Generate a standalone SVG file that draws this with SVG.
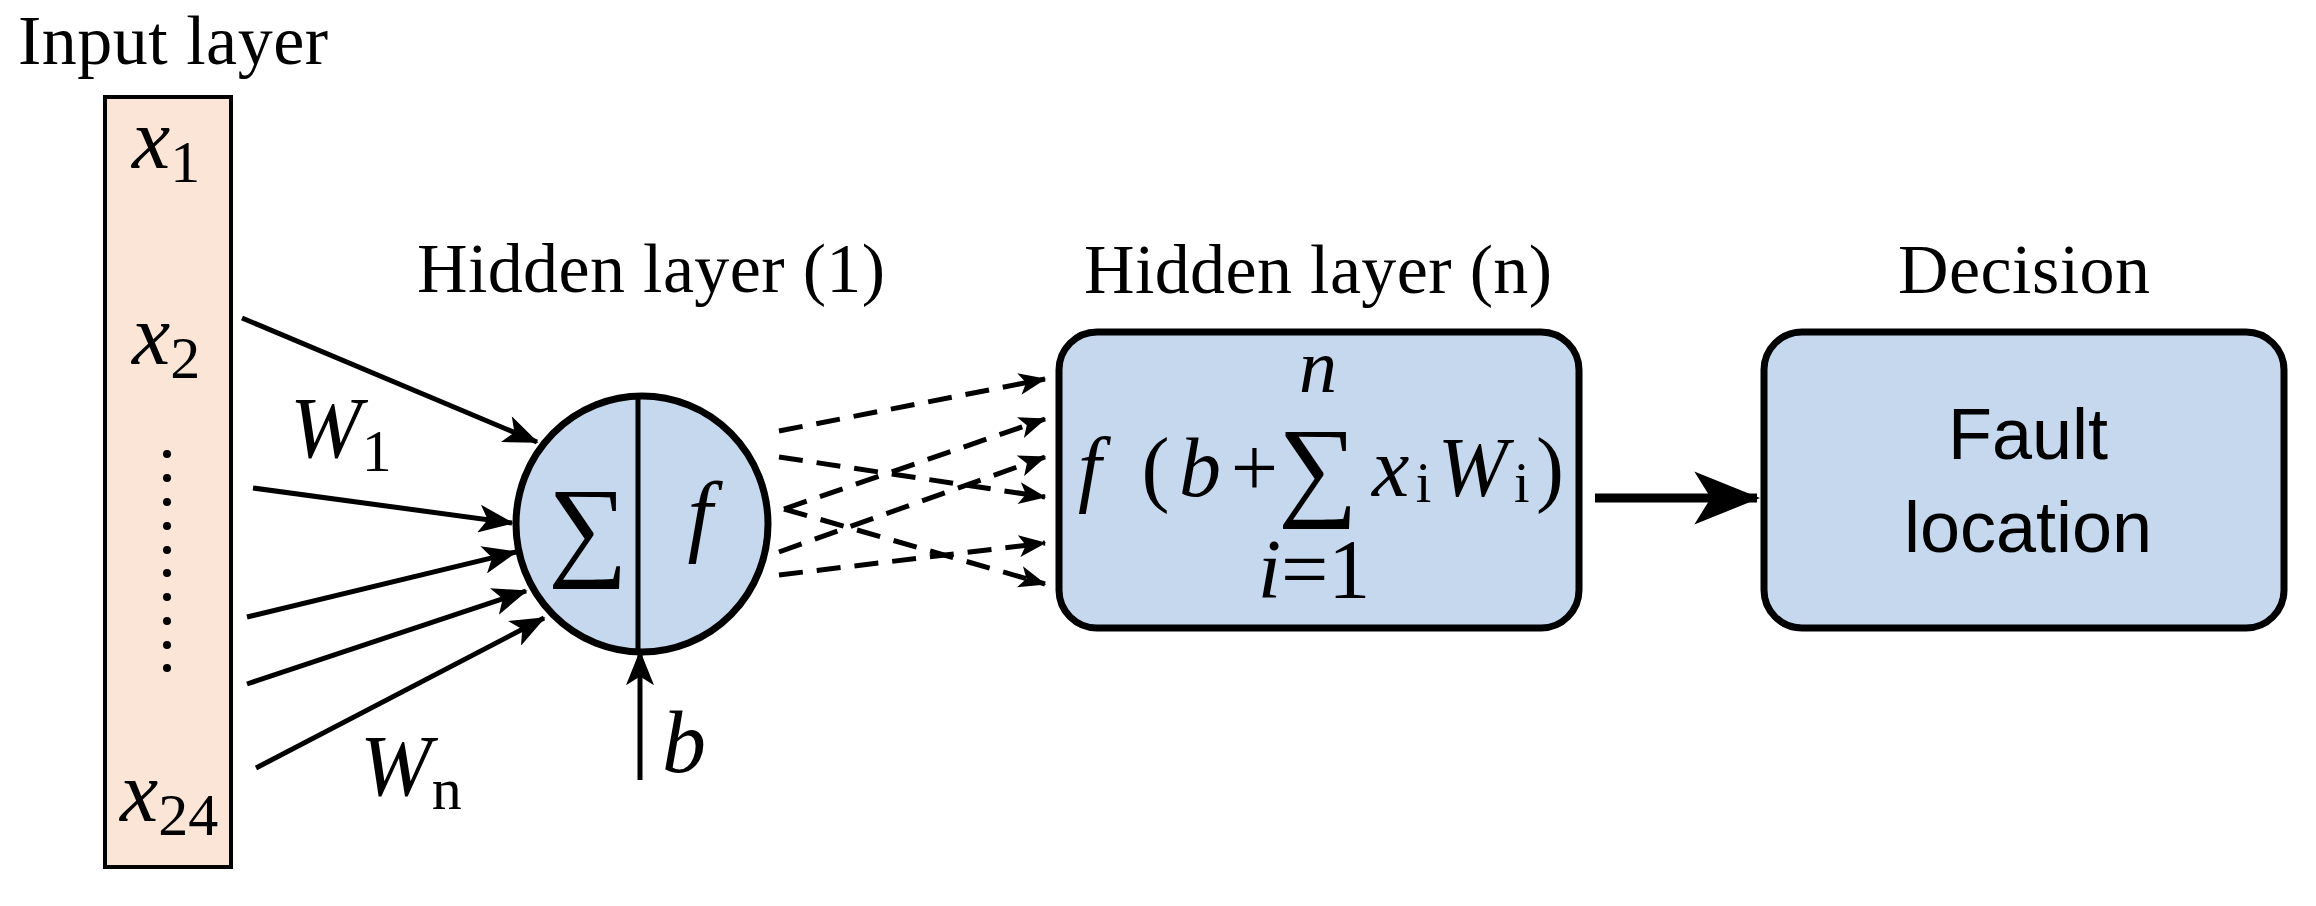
<svg xmlns="http://www.w3.org/2000/svg" width="2316" height="906" viewBox="0 0 2316 906">
<style>
.t{font-family:"Liberation Serif","Times New Roman",serif;fill:#000}
.s{font-family:"Liberation Sans",Arial,sans-serif;fill:#000}
.i{font-style:italic}
.ln{stroke:#000;stroke-width:5;fill:none}
.d{stroke:#000;stroke-width:5;fill:none;stroke-dasharray:24 14}
</style>
<defs>
<marker id="am" viewBox="0 0 10 8" refX="9.5" refY="4" markerWidth="36" markerHeight="28" orient="auto" markerUnits="userSpaceOnUse"><path d="M0,0 L10,4 L0,8 L2.5,4 Z"/></marker>
<marker id="ad" viewBox="0 0 10 8" refX="9.5" refY="4" markerWidth="28" markerHeight="22" orient="auto" markerUnits="userSpaceOnUse"><path d="M0,0 L10,4 L0,8 L2.5,4 Z"/></marker>
<marker id="ab" viewBox="0 0 10 8" refX="9.5" refY="4" markerWidth="66" markerHeight="56" orient="auto" markerUnits="userSpaceOnUse"><path d="M0,0 L10,4 L0,8 L2.5,4 Z"/></marker>
</defs>
<rect width="2316" height="906" fill="#fff"/>
<g id="input">
<text class="t" x="18" y="64" font-size="70" textLength="310">Input layer</text>
<rect x="105" y="97" width="126" height="770" fill="#fbe5d6" stroke="#000" stroke-width="4"/>
<text class="t" x="132" y="168" font-size="86"><tspan class="i">x</tspan><tspan font-size="60" dy="14">1</tspan></text>
<text class="t" x="132" y="364" font-size="86"><tspan class="i">x</tspan><tspan font-size="60" dy="14">2</tspan></text>
<text class="t" x="120" y="821" font-size="86"><tspan class="i">x</tspan><tspan font-size="60" dy="14">24</tspan></text>
<g fill="#000"><circle cx="167" cy="454" r="4"/><circle cx="167" cy="478" r="4"/><circle cx="167" cy="502" r="4"/><circle cx="167" cy="526" r="4"/><circle cx="167" cy="550" r="4"/><circle cx="167" cy="573" r="4"/><circle cx="167" cy="597" r="4"/><circle cx="167" cy="621" r="4"/><circle cx="167" cy="645" r="4"/><circle cx="167" cy="668" r="4"/></g>
<text class="t" x="290" y="457" font-size="86"><tspan class="i">W</tspan><tspan font-size="60" dy="14">1</tspan></text>
<text class="t" x="360" y="795" font-size="86"><tspan class="i">W</tspan><tspan font-size="60" dy="14">n</tspan></text>
</g>
<g id="hidden1">
<text class="t" x="417" y="292" font-size="70" textLength="468">Hidden layer (1)</text>
<ellipse cx="642" cy="524" rx="126" ry="128" fill="#c5d8ee" stroke="#000" stroke-width="7"/>
<line x1="638" y1="396" x2="638" y2="652" stroke="#000" stroke-width="5"/>
<text class="t" x="588" y="565" font-size="112" text-anchor="middle">∑</text>
<text class="t i" x="700" y="545" font-size="90" text-anchor="middle">f</text>
<text class="t i" x="662" y="772" font-size="88">b</text>
</g>
<g id="hiddenN">
<text class="t" x="1084" y="293" font-size="70" textLength="468">Hidden layer (n)</text>
<rect x="1059" y="332" width="520" height="296" rx="38" fill="#c5d8ee" stroke="#000" stroke-width="7"/>
<text class="t" x="1078" y="496" font-size="84" textLength="200"><tspan class="i">f</tspan> (<tspan class="i">b</tspan>+</text>
<text class="t" x="1318" y="505" font-size="112" text-anchor="middle">∑</text>
<text class="t i" x="1318" y="392" font-size="76" text-anchor="middle">n</text>
<text class="t" x="1372" y="496" font-size="84" textLength="192"><tspan class="i">x</tspan><tspan font-size="56" dy="6">i</tspan><tspan class="i" dy="-6">W</tspan><tspan font-size="56" dy="6">i</tspan><tspan dy="-6">)</tspan></text>
<text class="t" x="1314" y="598" font-size="84" text-anchor="middle"><tspan class="i">i</tspan>=1</text>
</g>
<g id="decision">
<text class="t" x="1898" y="293" font-size="70" textLength="252">Decision</text>
<rect x="1764" y="332" width="520" height="296" rx="38" fill="#c5d8ee" stroke="#000" stroke-width="7"/>
<text class="s" x="2028" y="459" font-size="72" text-anchor="middle">Fault</text>
<text class="s" x="2028" y="552" font-size="72" text-anchor="middle">location</text>
</g>
<g id="connectors">
<line class="ln" x1="242" y1="318" x2="537" y2="442" marker-end="url(#am)"/>
<line class="ln" x1="253" y1="488" x2="512" y2="523" marker-end="url(#am)"/>
<line class="ln" x1="247" y1="617" x2="516" y2="552" marker-end="url(#am)"/>
<line class="ln" x1="247" y1="684" x2="526" y2="591" marker-end="url(#am)"/>
<line class="ln" x1="256" y1="768" x2="544" y2="618" marker-end="url(#am)"/>
<line class="ln" x1="640" y1="780" x2="640" y2="652" marker-end="url(#am)"/>
<line class="d" x1="779" y1="431" x2="1045" y2="379" marker-end="url(#ad)"/>
<line class="d" x1="779" y1="457" x2="1045" y2="497" marker-end="url(#ad)"/>
<line class="d" x1="784" y1="509" x2="1045" y2="419" marker-end="url(#ad)"/>
<line class="d" x1="784" y1="509" x2="1045" y2="584" marker-end="url(#ad)"/>
<line class="d" x1="779" y1="552" x2="1045" y2="457" marker-end="url(#ad)"/>
<line class="d" x1="779" y1="575" x2="1045" y2="543" marker-end="url(#ad)"/>
<line x1="1595" y1="498" x2="1757" y2="498" stroke="#000" stroke-width="9" marker-end="url(#ab)"/>
</g>
</svg>
